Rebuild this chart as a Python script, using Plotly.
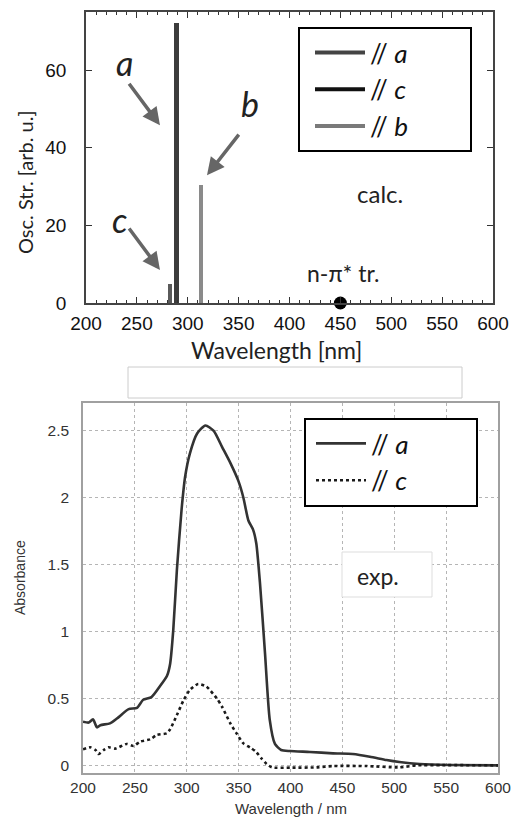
import plotly.graph_objects as go

W, H = 514, 818

# ---------------- data: calculated oscillator strengths (top) ----------------
calc_wavelength = [282.5, 289.0, 313.0]       # nm
calc_strength = [5.0, 72.2, 30.4]             # arb. u.
calc_bar_colors = ["#5a5a5a", "#3c3c3c", "#8a8a8a"]
npi_wavelength = [450.0]
npi_strength = [0.0]

calc_legend_names = ["// <i>a</i>", "// <i>c</i>", "// <i>b</i>"]
calc_legend_colors = ["#444444", "#111111", "#7a7a7a"]

# arrows with labels (data coords of top panel)
arrow_labels = ["a", "b", "c"]
label_x = [238.3, 361.2, 233.4]
label_y = [62.0, 51.5, 21.4]
arrow_tail_x = [241.3, 351.3, 241.3]
arrow_tail_y = [56.9, 43.8, 19.6]
arrow_head_x = [272.7, 318.9, 272.7]
arrow_head_y = [45.8, 32.9, 8.5]

# ---------------- data: experimental absorbance (bottom) ----------------
exp_a_wl = [200, 205.5, 209.6, 213.5, 216.7, 226, 232.7, 244, 252, 258, 266, 274, 281, 284,
            287, 290.5, 295, 298.5, 303, 310, 318, 326, 334, 342, 350, 354.6, 359.4, 364,
            367, 370.6, 375.4, 380, 385, 391, 399.5, 418.7, 441, 460, 476.5, 492.5, 505,
            524.6, 553.5, 600]
exp_a_abs = [0.326, 0.32, 0.344, 0.284, 0.30, 0.314, 0.35, 0.42, 0.43, 0.49, 0.51, 0.59, 0.67, 0.76,
             1.01, 1.46, 1.91, 2.16, 2.33, 2.48, 2.54, 2.50, 2.38, 2.26, 2.12, 2.0, 1.83, 1.76,
             1.66, 1.36, 0.84, 0.34, 0.16, 0.115, 0.107, 0.10, 0.09, 0.085, 0.065, 0.04, 0.025,
             0.01, 0.003, 0.0]
exp_c_wl = [200, 207, 212, 215, 220, 224.7, 231, 242, 248.8, 255, 264.8, 271, 280.8, 284,
            290.5, 297, 303, 311, 319, 329, 334, 342, 348, 354.6, 361, 367, 372, 377, 382,
            400, 425, 441, 473, 505, 521, 546.6, 600]
exp_c_abs = [0.12, 0.135, 0.115, 0.085, 0.115, 0.135, 0.125, 0.16, 0.145, 0.177, 0.195, 0.227, 0.24, 0.27,
             0.376, 0.488, 0.563, 0.608, 0.588, 0.50, 0.438, 0.314, 0.239, 0.164, 0.134, 0.10, 0.052, 0.01, -0.015,
             -0.017, -0.015, -0.005, -0.005, -0.015, 0.0, 0.002, 0.0]

x_ticks = [200, 250, 300, 350, 400, 450, 500, 550, 600]
top_y_ticks = [0, 20, 40, 60]
bot_y_ticks = [0, 0.5, 1, 1.5, 2, 2.5]
bot_y_ticklabels = ["0", "0.5", "1", "1.5", "2", "2.5"]


def px(x):
    return x / W


def py(y):
    return 1 - y / H


fig = go.Figure()

# top panel bars
for wl, s, col in zip(calc_wavelength, calc_strength, calc_bar_colors):
    fig.add_trace(go.Bar(x=[wl], y=[s], width=4.3, marker=dict(color=col, line=dict(width=0)),
                         showlegend=False, xaxis="x", yaxis="y", hoverinfo="skip"))
# legend entries for top panel
for name, col in zip(calc_legend_names, calc_legend_colors):
    fig.add_trace(go.Scatter(x=[None], y=[None], mode="lines", name=name,
                             line=dict(color=col, width=4), legend="legend", xaxis="x", yaxis="y"))
# n-pi* marker
fig.add_trace(go.Scatter(x=npi_wavelength, y=npi_strength, mode="markers",
                         marker=dict(color="black", size=13), cliponaxis=False,
                         showlegend=False, xaxis="x", yaxis="y"))

# bottom panel
fig.add_trace(go.Scatter(x=exp_a_wl, y=exp_a_abs, mode="lines", name="// <i>a</i>",
                         line=dict(color="#333333", width=2.6, shape="spline", smoothing=0.6),
                         legend="legend2", xaxis="x2", yaxis="y2"))
fig.add_trace(go.Scatter(x=exp_c_wl, y=exp_c_abs, mode="lines", name="// <i>c</i>",
                         line=dict(color="#1a1a1a", width=2.6, dash="dot", shape="spline", smoothing=0.6),
                         legend="legend2", xaxis="x2", yaxis="y2"))

tick_font_top = dict(family="Liberation Sans, Arial", size=19, color="#111")
tick_font_bot = dict(family="Liberation Sans, Arial", size=15.5, color="#333")

fig.update_layout(
    width=W, height=H,
    margin=dict(l=0, r=0, t=0, b=0),
    paper_bgcolor="white", plot_bgcolor="white",
    bargap=0,
    xaxis=dict(domain=[px(86), px(493)], range=[200, 600], anchor="y",
               tickvals=x_ticks, ticks="inside", ticklen=6, tickcolor="#333", tickwidth=1.2,
               minor=dict(dtick=10, ticks="inside", ticklen=3, tickcolor="#333", tickwidth=1),
               showline=True, linecolor="#444", linewidth=1.5, mirror="ticks",
               showgrid=False, zeroline=False, tickfont=tick_font_top,
               ticklabelstandoff=2, automargin=False),
    yaxis=dict(domain=[py(303), py(12)], range=[0, 75], anchor="x",
               tickvals=top_y_ticks, ticks="inside", ticklen=6, tickcolor="#333", tickwidth=1.2,
               showline=True, linecolor="#444", linewidth=1.5, mirror="ticks",
               showgrid=False, zeroline=False, tickfont=tick_font_top,
               ticklabelstandoff=14, automargin=False),
    xaxis2=dict(domain=[px(83), px(498)], range=[200, 600], anchor="y2",
                tickvals=x_ticks, ticks="", showline=True, linecolor="#a0a0a0", linewidth=1.5,
                mirror=True, showgrid=True, gridcolor="#b5b5b5", griddash="dot", gridwidth=1,
                zeroline=False, tickfont=tick_font_bot, ticklabelstandoff=0, automargin=False),
    yaxis2=dict(domain=[py(773), py(402.7)], range=[-0.057, 2.71], anchor="x2",
                tickvals=bot_y_ticks, ticktext=bot_y_ticklabels, ticks="", showline=True,
                linecolor="#a0a0a0", linewidth=1.5, mirror=True, showgrid=True,
                gridcolor="#b5b5b5", griddash="dot", gridwidth=1, zeroline=False,
                tickfont=tick_font_bot, ticklabelstandoff=9, automargin=False),
    legend=dict(x=px(310), y=py(29), xanchor="left", yanchor="top",
                bgcolor="rgba(0,0,0,0)", borderwidth=0, itemwidth=50,
                font=dict(family="Lato, Open Sans", size=26, color="#111")),
    legend2=dict(x=px(311), y=py(420), xanchor="left", yanchor="top",
                 bgcolor="rgba(0,0,0,0)", borderwidth=0, itemwidth=50,
                 font=dict(family="Lato, Open Sans", size=26, color="#111")),
)

shapes = [
    # top legend frame
    dict(type="rect", xref="paper", yref="paper", x0=px(299), x1=px(471), y0=py(151), y1=py(28),
         line=dict(color="black", width=2), fillcolor="white", layer="below"),
    # bottom legend frame
    dict(type="rect", xref="paper", yref="paper", x0=px(305), x1=px(477), y0=py(506), y1=py(419),
         line=dict(color="black", width=2), fillcolor="white", layer="above"),
    # exp. box
    dict(type="rect", xref="paper", yref="paper", x0=px(342), x1=px(432), y0=py(597), y1=py(552),
         line=dict(color="#dddddd", width=1), fillcolor="white", layer="above"),
    # empty box between panels
    dict(type="rect", xref="paper", yref="paper", x0=px(128), x1=px(462), y0=py(398), y1=py(367),
         line=dict(color="#cccccc", width=1), fillcolor="rgba(0,0,0,0)", layer="above"),
]
fig.update_layout(shapes=shapes)

ann = []
for lab, lx, ly in zip(arrow_labels, label_x, label_y):
    ann.append(dict(x=lx, y=ly, xref="x", yref="y", text=f"<i>{lab}</i>", showarrow=False,
                    xanchor="center", yanchor="middle",
                    font=dict(family="Lato, Open Sans", size=34, color="#222")))
for tx, ty, hx, hy in zip(arrow_tail_x, arrow_tail_y, arrow_head_x, arrow_head_y):
    ann.append(dict(x=hx, y=hy, xref="x", yref="y", ax=tx, ay=ty, axref="x", ayref="y",
                    text="", showarrow=True, arrowhead=2, arrowsize=1, arrowwidth=3.5,
                    arrowcolor="#666666", standoff=0))


def label(x, y, text, size, family="Lato, Open Sans", color="#222", angle=0, ref="paper"):
    return dict(x=x, y=y, xref=ref if ref == "paper" else "x", yref=ref if ref == "paper" else "y",
                text=text, showarrow=False, textangle=angle, xanchor="center", yanchor="middle",
                font=dict(family=family, size=size, color=color))


ann += [
    label(489, 28.3, "calc.", 24, ref="data"),
    label(452.6, 7.7, "n-π* tr.", 23, ref="data"),
    label(px(378), py(576), "exp.", 23),
    label(px(276), py(350), "Wavelength [nm]", 23),
    label(px(25), py(182), "Osc. Str. [arb. u.]", 20, angle=-90),
    label(px(291), py(808), "Wavelength / nm", 15, family="Liberation Sans, Arial", color="#333"),
    label(px(20), py(578), "Absorbance", 14, family="Liberation Sans, Arial", color="#333", angle=-90),
]
fig.update_layout(annotations=ann)

fig.write_html("out.html", config={"displayModeBar": False},
               post_script="document.body.style.margin='0';document.body.style.padding='0';"
                           "document.documentElement.style.overflow='hidden';")
